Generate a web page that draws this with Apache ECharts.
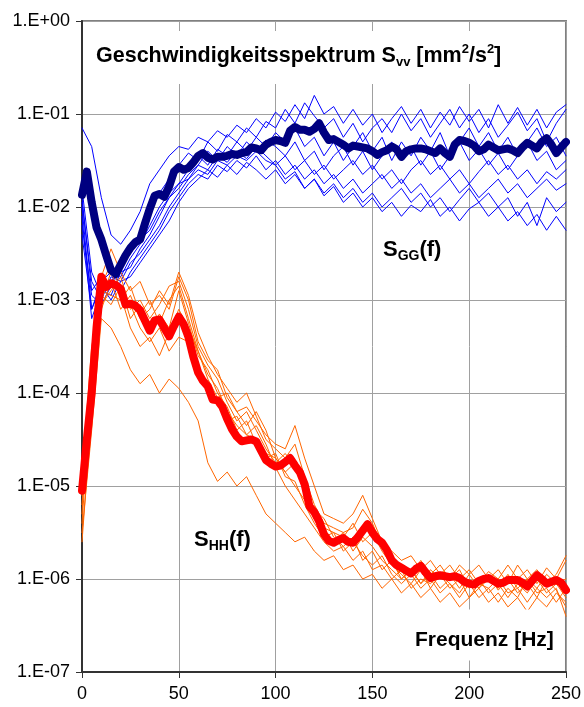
<!DOCTYPE html>
<html>
<head>
<meta charset="utf-8">
<script src="https://cdn.jsdelivr.net/npm/echarts@6/dist/echarts.min.js"></script>
<style>
  html, body { margin: 0; padding: 0; background: #fff; }
  .charts { width: 584px; height: 707px; }
</style>
</head>
<body>
<div class="charts"></div>
<script>
// Frequenzen [Hz]
var freqThick = [0,2.5,5,7.5,10,12.5,15,17.5,20,22.5,25,27.5,30,32.5,35,37.5,40,42.5,45,47.5,
  50,52.5,55,57.5,60,62.5,65,67.5,70,72.5,75,77.5,80,82.5,85,87.5,90,92.5,95,97.5,
  100,102.5,105,107.5,110,112.5,115,117.5,120,122.5,125,127.5,130,132.5,135,137.5,140,142.5,145,147.5,
  150,152.5,155,157.5,160,162.5,165,167.5,170,172.5,175,177.5,180,182.5,185,187.5,190,192.5,195,197.5,
  200,202.5,205,207.5,210,212.5,215,217.5,220,222.5,225,227.5,230,232.5,235,237.5,240,242.5,245,247.5,250];
var freqThin = [0,5,10,15,20,25,30,35,40,45,50,55,60,65,70,75,80,85,90,95,
  100,105,110,115,120,125,130,135,140,145,150,155,160,165,170,175,180,185,190,195,
  200,205,210,215,220,225,230,235,240,245,250];

var sggMean = [-1.87,-1.62,-1.95,-2.22,-2.35,-2.52,-2.68,-2.72,-2.62,-2.52,
  -2.44,-2.38,-2.35,-2.18,-2.02,-1.88,-1.86,-1.89,-1.78,-1.62,
  -1.57,-1.60,-1.58,-1.52,-1.45,-1.42,-1.47,-1.49,-1.46,-1.46,
  -1.45,-1.43,-1.44,-1.42,-1.41,-1.36,-1.37,-1.39,-1.33,-1.30,
  -1.28,-1.29,-1.31,-1.18,-1.14,-1.17,-1.17,-1.19,-1.16,-1.10,
  -1.20,-1.28,-1.27,-1.30,-1.33,-1.37,-1.34,-1.35,-1.36,-1.37,
  -1.40,-1.44,-1.41,-1.39,-1.35,-1.38,-1.46,-1.40,-1.38,-1.37,
  -1.37,-1.38,-1.40,-1.42,-1.37,-1.42,-1.46,-1.33,-1.28,-1.29,
  -1.31,-1.34,-1.40,-1.38,-1.33,-1.36,-1.39,-1.38,-1.37,-1.39,
  -1.42,-1.36,-1.31,-1.34,-1.37,-1.30,-1.26,-1.33,-1.42,-1.36,
  -1.30];
var shhMean = [-5.05,-4.50,-4.00,-3.30,-2.75,-2.86,-2.82,-2.84,-2.88,-3.05,
  -3.04,-3.06,-3.11,-3.22,-3.33,-3.22,-3.21,-3.30,-3.39,-3.28,
  -3.18,-3.26,-3.40,-3.61,-3.78,-3.87,-3.93,-4.07,-4.08,-4.15,
  -4.28,-4.39,-4.47,-4.52,-4.51,-4.50,-4.52,-4.62,-4.72,-4.76,
  -4.79,-4.78,-4.74,-4.70,-4.78,-4.85,-4.98,-5.22,-5.28,-5.38,
  -5.52,-5.59,-5.61,-5.58,-5.56,-5.60,-5.61,-5.55,-5.48,-5.41,
  -5.50,-5.57,-5.61,-5.69,-5.80,-5.85,-5.88,-5.91,-5.94,-5.89,
  -5.86,-5.93,-5.99,-5.97,-5.96,-5.97,-5.98,-5.97,-5.99,-6.03,
  -6.05,-6.06,-6.02,-6.00,-5.99,-6.02,-6.05,-6.04,-6.01,-6.01,
  -6.01,-6.04,-6.08,-6.02,-5.96,-6.00,-6.05,-6.03,-6.01,-6.04,
  -6.12];

var sgg1 = [-1.15,-1.35,-1.90,-2.30,-2.40,-2.25,-2.05,-1.75,-1.60,-1.45,
  -1.35,-1.38,-1.25,-1.30,-1.18,-1.25,-1.12,-1.20,-1.05,-1.15,
  -0.98,-1.08,-0.90,-1.05,-0.80,-1.00,-0.92,-1.10,-0.95,-1.12,
  -1.00,-1.20,-1.05,-0.92,-1.10,-0.95,-1.15,-0.98,-1.12,-0.92,
  -1.08,-0.95,-1.15,-0.90,-1.10,-0.93,-1.12,-0.95,-1.15,-0.98,
  -0.90];
var sgg2 = [-1.90,-2.90,-2.75,-2.85,-2.60,-2.50,-2.30,-2.05,-1.85,-1.70,
  -1.55,-1.42,-1.50,-1.30,-1.40,-1.22,-1.30,-1.15,-1.25,-1.08,
  -1.15,-0.95,-1.10,-0.88,-1.02,-1.15,-1.05,-1.25,-1.10,-1.30,
  -1.15,-1.05,-1.20,-1.00,-1.18,-1.05,-1.25,-1.10,-0.95,-1.15,
  -1.00,-1.20,-1.05,-1.25,-1.12,-0.98,-1.18,-1.05,-1.30,-1.10,
  -0.95];
var sgg3 = [-2.00,-3.10,-2.80,-2.70,-2.75,-2.55,-2.40,-2.20,-2.00,-1.85,
  -1.75,-1.60,-1.45,-1.55,-1.38,-1.45,-1.30,-1.40,-1.25,-1.35,
  -1.20,-1.30,-1.15,-1.35,-1.25,-1.45,-1.30,-1.50,-1.35,-1.20,
  -1.40,-1.25,-1.50,-1.30,-1.45,-1.25,-1.40,-1.20,-1.45,-1.30,
  -1.15,-1.35,-1.20,-1.40,-1.25,-1.45,-1.30,-1.15,-1.35,-1.25,
  -1.45];
var sgg4 = [-2.10,-3.20,-2.90,-2.95,-2.70,-2.65,-2.45,-2.30,-2.10,-1.90,
  -1.80,-1.65,-1.55,-1.40,-1.50,-1.35,-1.45,-1.30,-1.40,-1.28,
  -1.35,-1.45,-1.30,-1.50,-1.40,-1.60,-1.45,-1.35,-1.55,-1.40,
  -1.60,-1.45,-1.30,-1.50,-1.35,-1.55,-1.40,-1.60,-1.45,-1.30,
  -1.50,-1.38,-1.55,-1.42,-1.60,-1.45,-1.30,-1.50,-1.40,-1.60,
  -1.50];
var sgg5 = [-1.95,-2.80,-3.00,-2.75,-2.80,-2.60,-2.50,-2.35,-2.20,-2.00,
  -1.85,-1.70,-1.60,-1.65,-1.50,-1.55,-1.45,-1.50,-1.40,-1.50,
  -1.55,-1.45,-1.60,-1.50,-1.65,-1.55,-1.70,-1.60,-1.50,-1.65,
  -1.55,-1.70,-1.60,-1.75,-1.60,-1.50,-1.65,-1.55,-1.70,-1.60,
  -1.75,-1.62,-1.50,-1.65,-1.55,-1.70,-1.60,-1.75,-1.62,-1.70,
  -1.60];
var sgg6 = [-2.20,-2.95,-3.05,-2.85,-2.90,-2.70,-2.55,-2.40,-2.25,-2.05,
  -1.90,-1.75,-1.65,-1.70,-1.55,-1.62,-1.50,-1.58,-1.45,-1.60,
  -1.50,-1.65,-1.55,-1.70,-1.60,-1.75,-1.65,-1.80,-1.70,-1.85,
  -1.75,-1.65,-1.80,-1.70,-1.85,-1.75,-1.90,-1.80,-1.70,-1.85,
  -1.75,-1.90,-1.80,-1.70,-1.85,-1.75,-1.90,-1.80,-1.70,-1.82,
  -1.75];
var sgg7 = [-2.30,-3.10,-2.85,-3.00,-2.80,-2.75,-2.60,-2.45,-2.30,-2.15,
  -1.95,-1.80,-1.70,-1.60,-1.68,-1.55,-1.65,-1.52,-1.60,-1.70,
  -1.60,-1.75,-1.65,-1.80,-1.70,-1.85,-1.75,-1.90,-1.80,-1.95,
  -1.85,-2.00,-1.90,-1.80,-1.95,-1.85,-2.00,-1.90,-2.05,-1.92,
  -1.80,-1.95,-1.85,-2.00,-1.90,-2.10,-1.95,-2.20,-1.90,-2.05,
  -1.95];
var sgg8 = [-1.80,-2.70,-2.95,-2.80,-2.65,-2.50,-2.35,-2.25,-2.05,-1.90,
  -1.75,-1.70,-1.55,-1.60,-1.45,-1.52,-1.40,-1.48,-1.35,-1.45,
  -1.55,-1.70,-1.62,-1.80,-1.70,-1.88,-1.78,-1.95,-1.85,-2.00,
  -1.90,-2.05,-1.95,-2.10,-1.98,-2.05,-1.92,-2.10,-2.00,-2.15,
  -2.02,-1.95,-2.10,-2.00,-2.15,-2.05,-2.20,-2.08,-2.25,-2.10,
  -2.25];

var shh1 = [-5.30,-3.60,-2.75,-2.45,-2.70,-2.90,-2.80,-3.05,-2.95,-3.10,
  -2.75,-3.00,-3.45,-3.65,-3.75,-4.05,-4.20,-4.15,-4.30,-4.45,
  -4.55,-4.60,-4.35,-4.70,-5.00,-5.30,-5.35,-5.40,-5.30,-5.10,
  -5.35,-5.60,-5.70,-5.80,-5.75,-5.90,-5.80,-5.95,-5.85,-6.00,
  -5.90,-6.05,-5.92,-6.00,-5.85,-6.00,-5.90,-6.05,-5.88,-6.00,
  -5.80];
var shh2 = [-5.60,-4.20,-3.05,-2.90,-2.75,-3.10,-3.00,-3.20,-3.05,-2.85,
  -2.80,-3.10,-3.50,-3.70,-3.85,-4.10,-4.30,-4.20,-4.40,-4.60,
  -4.75,-4.65,-4.80,-5.05,-5.30,-5.45,-5.50,-5.55,-5.40,-5.60,
  -5.50,-5.70,-5.85,-5.95,-6.05,-5.90,-6.10,-5.95,-6.05,-6.15,
  -6.00,-6.10,-5.95,-6.12,-6.00,-6.15,-6.05,-6.20,-6.00,-6.12,
  -6.30];
var shh3 = [-5.00,-4.00,-2.90,-2.95,-3.00,-2.85,-3.15,-3.00,-3.25,-3.00,
  -2.85,-3.20,-3.55,-3.80,-3.95,-4.20,-4.35,-4.45,-4.50,-4.65,
  -4.70,-4.85,-4.75,-5.10,-5.35,-5.50,-5.60,-5.50,-5.70,-5.55,
  -5.65,-5.80,-5.90,-6.00,-5.90,-6.05,-5.95,-6.10,-6.00,-5.90,
  -6.10,-6.00,-6.15,-6.05,-6.20,-6.05,-6.15,-6.00,-6.15,-6.05,
  -6.20];
var shh4 = [-5.50,-4.40,-3.20,-3.30,-3.50,-3.75,-3.90,-3.80,-4.00,-3.85,
  -3.95,-4.10,-4.30,-4.75,-4.95,-4.85,-5.00,-4.90,-5.10,-5.30,
  -5.40,-5.50,-5.60,-5.55,-5.70,-5.80,-5.75,-5.90,-5.85,-6.00,
  -5.95,-6.10,-6.00,-6.15,-6.05,-6.20,-6.10,-6.25,-6.15,-6.30,
  -6.20,-6.10,-6.25,-6.15,-6.30,-6.20,-6.35,-6.20,-6.30,-6.15,
  -6.25];
var shh5 = [-5.20,-3.80,-2.85,-2.60,-2.90,-3.05,-3.30,-3.45,-3.30,-3.55,
  -3.40,-3.45,-3.70,-3.95,-4.10,-4.30,-4.25,-4.45,-4.35,-4.55,
  -4.80,-5.00,-5.15,-5.30,-5.45,-5.60,-5.70,-5.65,-5.80,-5.70,
  -5.90,-5.85,-6.00,-5.90,-6.10,-6.00,-6.05,-5.95,-6.10,-6.00,
  -6.20,-6.05,-6.10,-6.25,-6.10,-6.20,-6.00,-6.15,-6.10,-6.25,
  -6.10];
var shh6 = [-5.40,-3.90,-3.10,-2.80,-3.10,-2.95,-3.20,-3.10,-2.90,-3.05,
  -2.70,-2.95,-3.35,-3.60,-3.80,-3.95,-4.10,-4.00,-4.25,-4.50,
  -4.60,-4.70,-4.55,-4.90,-5.20,-5.40,-5.45,-5.50,-5.45,-5.25,
  -5.40,-5.65,-5.80,-5.85,-5.95,-5.80,-5.95,-5.85,-6.00,-5.85,
  -5.95,-5.85,-6.00,-5.90,-6.05,-5.85,-6.00,-5.90,-6.05,-5.95,
  -5.75];
var shh7 = [-4.90,-3.50,-2.95,-3.05,-2.85,-3.20,-3.05,-3.35,-3.15,-3.30,
  -2.90,-3.25,-3.60,-3.75,-4.00,-4.15,-4.40,-4.30,-4.55,-4.70,
  -4.65,-4.90,-4.95,-5.20,-5.40,-5.55,-5.50,-5.70,-5.60,-5.75,
  -5.85,-5.75,-5.95,-6.05,-5.95,-6.10,-6.00,-6.15,-6.05,-6.20,
  -6.05,-6.20,-6.10,-6.00,-6.15,-6.10,-6.25,-6.10,-6.20,-6.10,
  -6.40];
var shh8 = [-5.10,-4.10,-3.00,-2.70,-2.95,-3.30,-3.50,-3.40,-3.60,-3.35,
  -3.10,-3.30,-3.55,-3.85,-4.05,-4.00,-4.20,-4.35,-4.20,-4.40,
  -4.70,-4.85,-5.00,-5.15,-5.25,-5.35,-5.55,-5.65,-5.55,-5.80,
  -5.70,-5.90,-5.80,-6.00,-5.90,-6.05,-5.90,-6.00,-5.95,-6.10,
  -5.95,-6.10,-6.00,-6.10,-5.95,-6.10,-6.00,-6.10,-5.95,-6.05,
  -6.00];

var sggSingles = [sgg1, sgg2, sgg3, sgg4, sgg5, sgg6, sgg7, sgg8];
var shhSingles = [shh1, shh2, shh3, shh4, shh5, shh6, shh7, shh8];

var font = 'Liberation Sans, Arial, sans-serif';

function pairs(freqs, logs) {
    return freqs.map(function (f, i) { return [f, Math.pow(10, logs[i])]; });
}

function lineSeries(freqs, logs, color, width) {
    return {
        type: 'line',
        data: pairs(freqs, logs),
        showSymbol: false,
        silent: true,
        lineStyle: {color: color, width: width, join: 'round', cap: 'round'}
    };
}

var series = [];
sggSingles.forEach(function (s) { series.push(lineSeries(freqThin, s, '#0000ff', 1)); });
shhSingles.forEach(function (s) { series.push(lineSeries(freqThin, s, '#ff6600', 1)); });
series.push(lineSeries(freqThick, sggMean, '#000080', 8));
series.push(lineSeries(freqThick, shhMean, '#ff0000', 8));

var bold = {fontFamily: font, fontWeight: 'bold', color: '#000'};
function richSet(size, sub) {
    return {
        b: Object.assign({fontSize: size, lineHeight: 26}, bold),
        sub: Object.assign({fontSize: sub, lineHeight: 14, verticalAlign: 'bottom'}, bold),
        sup: Object.assign({fontSize: sub, lineHeight: 14, verticalAlign: 'top'}, bold)
    };
}

var myChart = echarts.init(document.querySelector('.charts'), null, {renderer: 'canvas'});

var option = {
    animation: false,
    backgroundColor: '#fff',
    title: [
        {
            text: '{b|Geschwindigkeitsspektrum S}{sub|vv}{b| [mm}{sup|2}{b|/s}{sup|2}{b|]}',
            left: 88, top: 31,
            padding: [12, 8, 15, 8],
            backgroundColor: '#fff',
            textStyle: {rich: richSet(21.5, 13)}
        },
        {
            text: '{b|S}{sub|GG}{b|(f)}',
            left: 383, top: 237,
            padding: 0,
            textStyle: {rich: richSet(22, 14)}
        },
        {
            text: '{b|S}{sub|HH}{b|(f)}',
            left: 194, top: 527,
            padding: 0,
            textStyle: {rich: richSet(22, 14)}
        },
        {
            text: '{b|Frequenz [Hz]}',
            left: 409, top: 607,
            padding: [20, 6, 10, 6],
            backgroundColor: '#fff',
            textStyle: {rich: richSet(21, 13)}
        }
    ],
    grid: {
        left: 82, right: 16, top: 21, bottom: 35,
        show: true, borderColor: '#808080', borderWidth: 2,
        containLabel: false
    },
    xAxis: {
        type: 'value', min: 0, max: 250, interval: 50,
        axisLine: {show: true, onZero: false, lineStyle: {color: '#333', width: 2}},
        axisTick: {show: true, length: 6, lineStyle: {color: '#333', width: 1}},
        axisLabel: {fontFamily: font, fontSize: 18, color: '#000', margin: 13},
        splitLine: {show: true, lineStyle: {color: '#a0a0a0', width: 1}}
    },
    yAxis: {
        type: 'log', logBase: 10, min: 1e-7, max: 1,
        axisLine: {show: true, onZero: false, lineStyle: {color: '#333', width: 2}},
        axisTick: {show: true, length: 6, lineStyle: {color: '#333', width: 1}},
        axisLabel: {
            fontFamily: font, fontSize: 18, color: '#000', margin: 12,
            formatter: function (v) {
                var e = Math.round(Math.log10(v));
                var a = Math.abs(e);
                return '1.E' + (e < 0 ? '-' : '+') + (a < 10 ? '0' : '') + a;
            }
        },
        splitLine: {show: true, lineStyle: {color: '#a0a0a0', width: 1}}
    },
    series: series
};

myChart.setOption(option);
</script>
</body>
</html>
